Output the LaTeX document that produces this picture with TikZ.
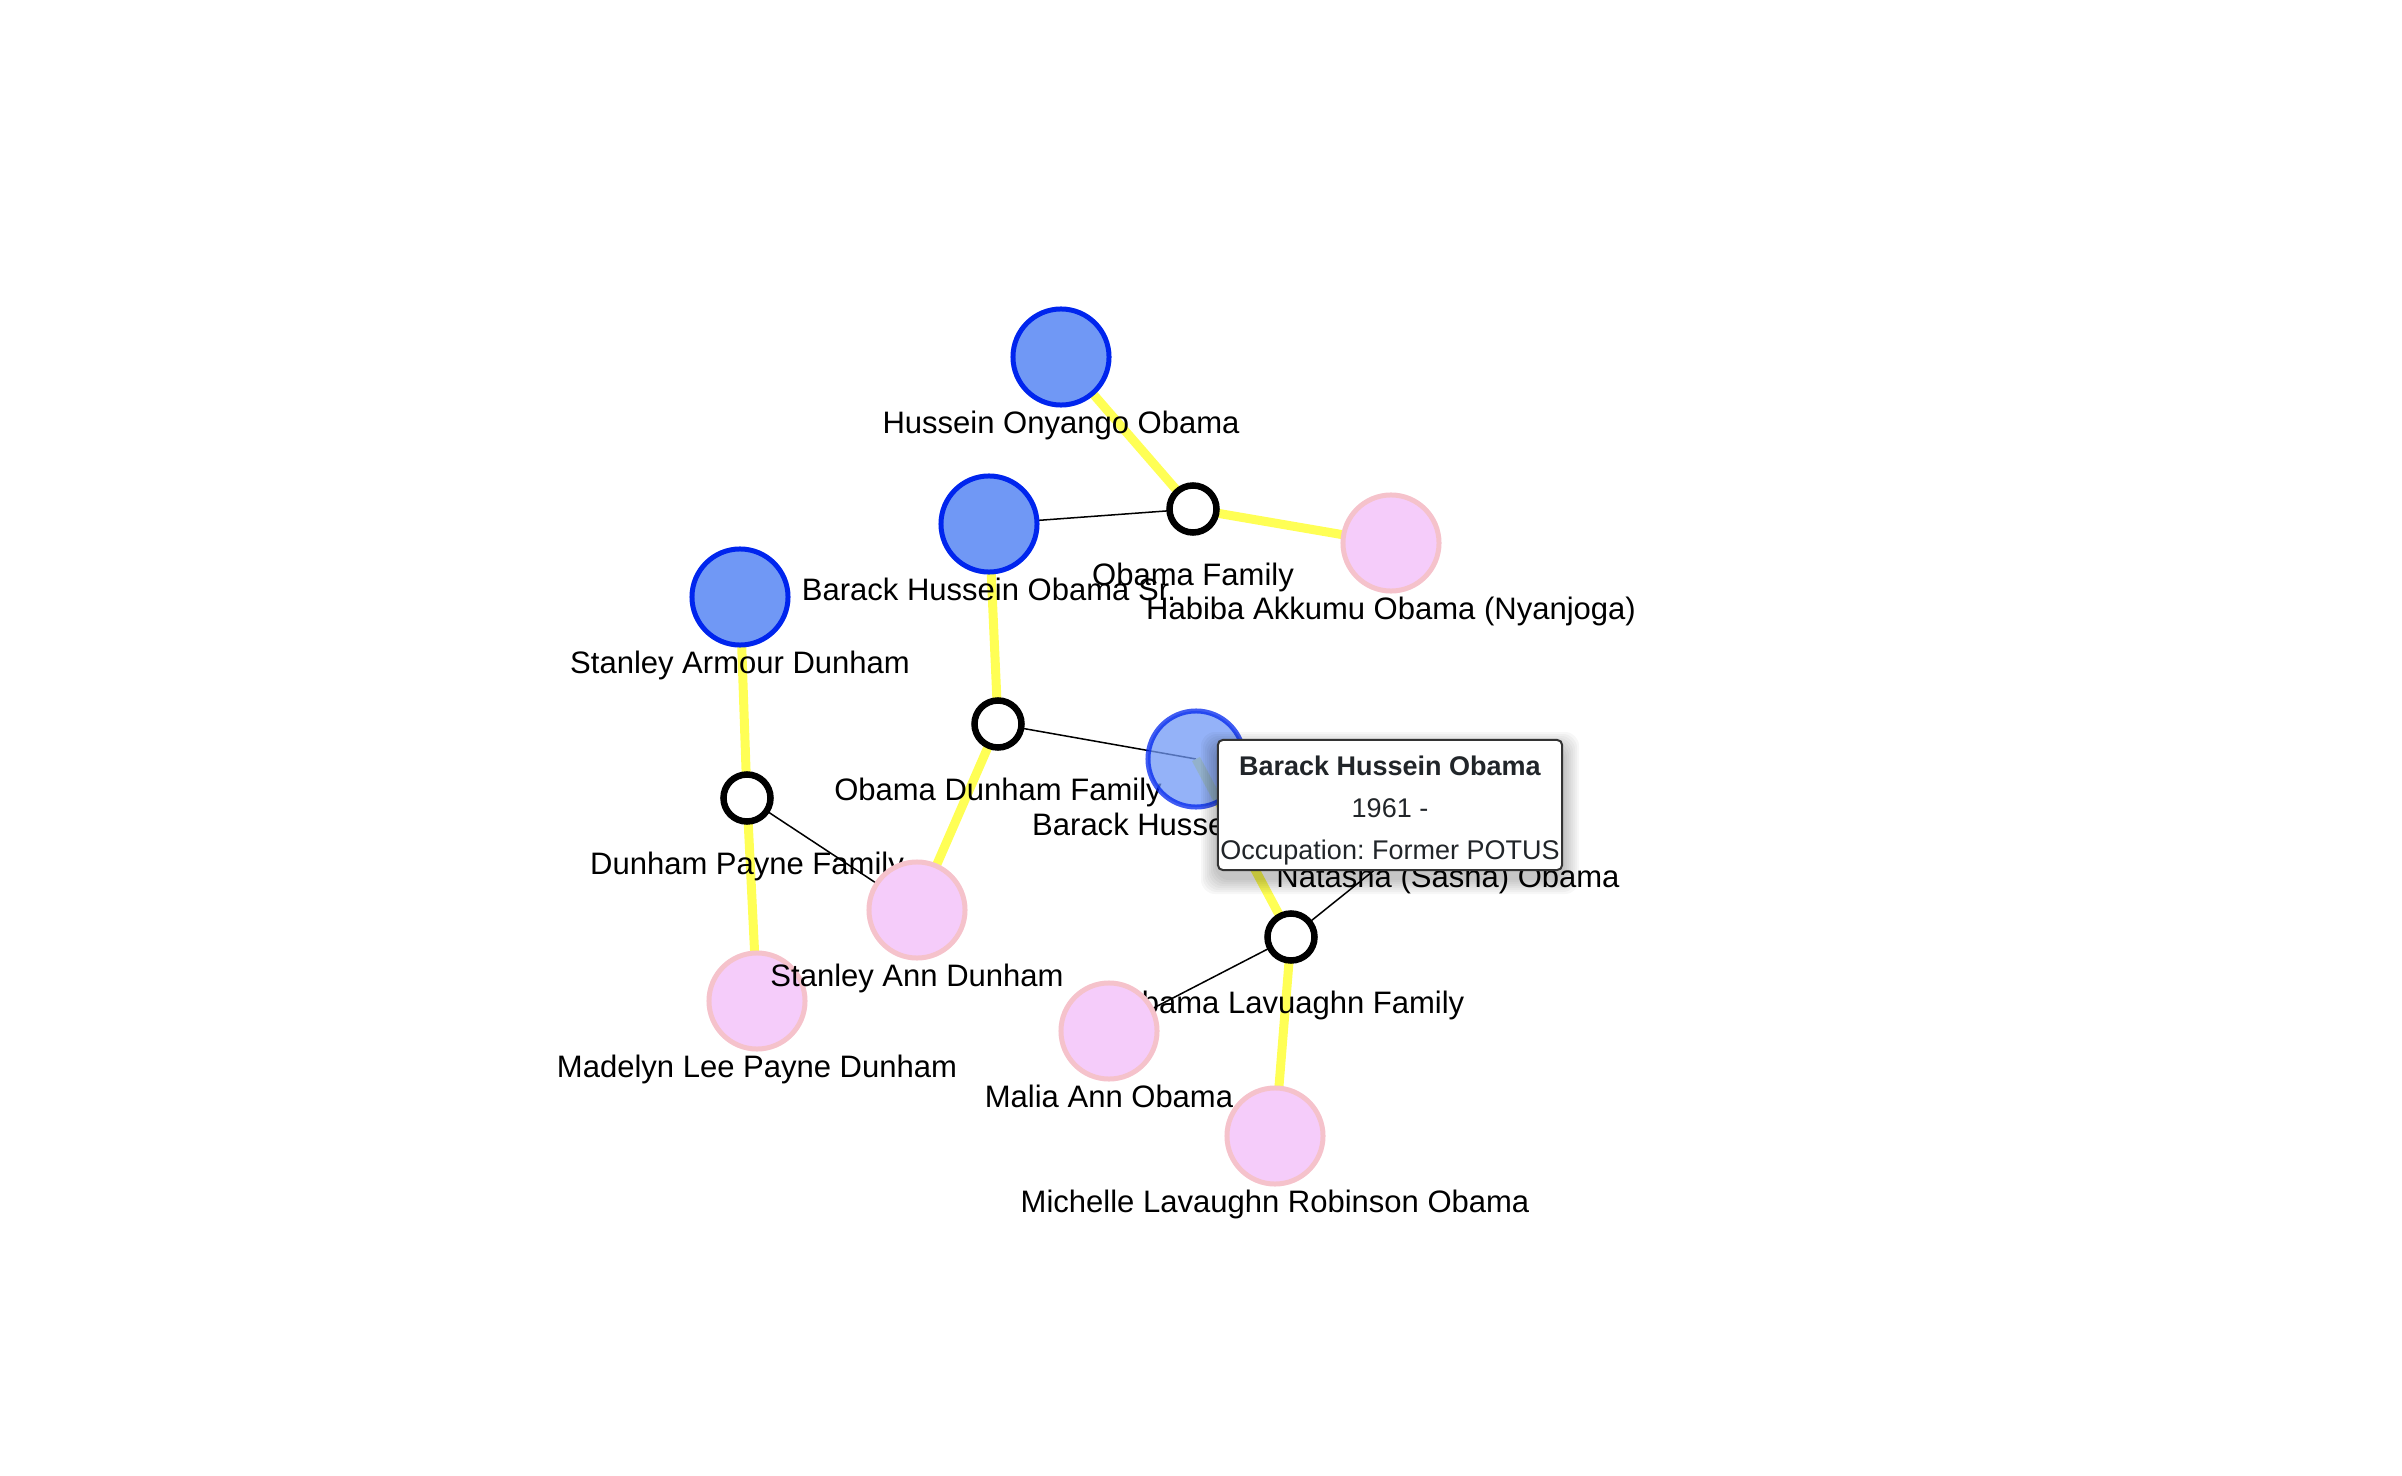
\documentclass[tikz,border=0pt]{standalone}
\usepackage{fontspec}
\setmainfont{Liberation Sans}
\usepackage{tikz}
\definecolor{malefill}{HTML}{7098F5}
\definecolor{maleline}{HTML}{0025EE}
\definecolor{femalefill}{HTML}{F5CCFA}
\definecolor{femaleline}{HTML}{F5C2CB}
\definecolor{spouseyellow}{HTML}{FFFF55}
\definecolor{tipborder}{HTML}{333333}
\definecolor{tiptext}{HTML}{212529}
\pgfdeclarelayer{links}
\pgfsetlayers{links,main}
\frenchspacing
\tikzset{
  male/.style={circle, draw=maleline, fill=malefill, line width=1.42pt, minimum size=9.6mm, inner sep=0pt},
  female/.style={circle, draw=femaleline, fill=femalefill, line width=1.42pt, minimum size=9.6mm, inner sep=0pt},
  famnode/.style={circle, draw=black, fill=white, line width=1.85pt, minimum size=4.7mm, inner sep=0pt},
  lbl/.style={anchor=base, yshift=-7.6mm, inner sep=0pt, font=\fontsize{8.82pt}{10pt}\selectfont},
  spouselink/.style={draw=spouseyellow, line width=2.56pt},
  kinlink/.style={draw=black, line width=0.43pt},
  tooltip/.style={rectangle, rounded corners=1.4pt, draw=tipborder, line width=0.57pt, fill=white,
                  text=tiptext, minimum width=3.44cm, minimum height=1.30cm, align=center, inner sep=0pt,
                  font=\fontsize{7.68pt}{11.95pt}\selectfont},
  tipshadow/.style={fill=black, opacity=0.03, rounded corners=4pt},
}

\begin{document}
\begin{tikzpicture}[x=0.01cm, y=-0.01cm]
\useasboundingbox (0,0) rectangle (2402,1476);
% families
\node[famnode] (obamafam) at (1193,509) {};
\node[lbl] (obamafamtxt) at (obamafam) {Obama Family};
\node[famnode] (obdunfam) at (998,724) {};
\node[lbl] (obdunfamtxt) at (obdunfam) {Obama Dunham Family};
\node[famnode] (dunpayfam) at (747,798) {};
\node[lbl] (dunpayfamtxt) at (dunpayfam) {Dunham Payne Family};
\node[famnode] (oblavfam) at (1291,937) {};
\node[lbl] (oblavfamtxt) at (oblavfam) {Obama Lavuaghn Family};
% people
\node[male] (huss) at (1061,357) {};
\node[lbl] (husstxt) at (huss) {Hussein Onyango Obama};
\node[female] (habiba) at (1391,543) {};
\node[lbl] (habibatxt) at (habiba) {Habiba Akkumu Obama (Nyanjoga)};
\node[male] (barsr) at (989,524) {};
\node[lbl] (barsrtxt) at (barsr) {Barack Hussein Obama Sr.};
\node[male] (stanarm) at (740,597) {};
\node[lbl] (stanarmtxt) at (stanarm) {Stanley Armour Dunham};
\node[female] (madelyn) at (757,1001) {};
\node[lbl] (madelyntxt) at (madelyn) {Madelyn Lee Payne Dunham};
\node[female] (stanann) at (917,910) {};
\node[lbl] (stananntxt) at (stanann) {Stanley Ann Dunham};
\node[male, opacity=0.75] (barack) at (1196,759) {};
\node[lbl] (baracktxt) at (barack) {Barack Hussein Obama};
\node[female] (natasha) at (1448,811) {};
\node[lbl] (natashatxt) at (natasha) {Natasha (Sasha) Obama};
\node[female] (malia) at (1109,1031) {};
\node[lbl] (maliatxt) at (malia) {Malia Ann Obama};
\node[female] (michelle) at (1275,1136) {};
\node[lbl] (michelletxt) at (michelle) {Michelle Lavaughn Robinson Obama};

\begin{pgfonlayer}{links}
\draw[spouselink] (huss.center) -- (obamafam.center);
\draw[spouselink] (obamafam.center) -- (habiba.center);
\draw[kinlink] (obamafam.center) -- (barsr.center);
\draw[spouselink] (barsr.center) -- (obdunfam.center);
\draw[spouselink] (obdunfam.center) -- (stanann.center);
\draw[kinlink] (obdunfam.center) -- (barack.center);
\draw[spouselink] (stanarm.center) -- (dunpayfam.center);
\draw[spouselink] (dunpayfam.center) -- (madelyn.center);
\draw[kinlink] (dunpayfam.center) -- (stanann.center);
\draw[spouselink] (barack.center) -- (oblavfam.center);
\draw[spouselink] (oblavfam.center) -- (michelle.center);
\draw[kinlink] (oblavfam.center) -- (malia.center);
\draw[kinlink] (oblavfam.center) -- (natasha.center);
\end{pgfonlayer}

% hover card with a soft shadow
\foreach \s in {2,4,...,16}
  \fill[tipshadow] (1217-\s,741-\s+7) rectangle (1563+\s,871+\s+7);
\node[tooltip] (tip) at (1390,805) {\rule{0pt}{0.30cm}\textbf{Barack Hussein Obama}\\1961 -\\Occupation: Former POTUS};
\end{tikzpicture}
\end{document}
